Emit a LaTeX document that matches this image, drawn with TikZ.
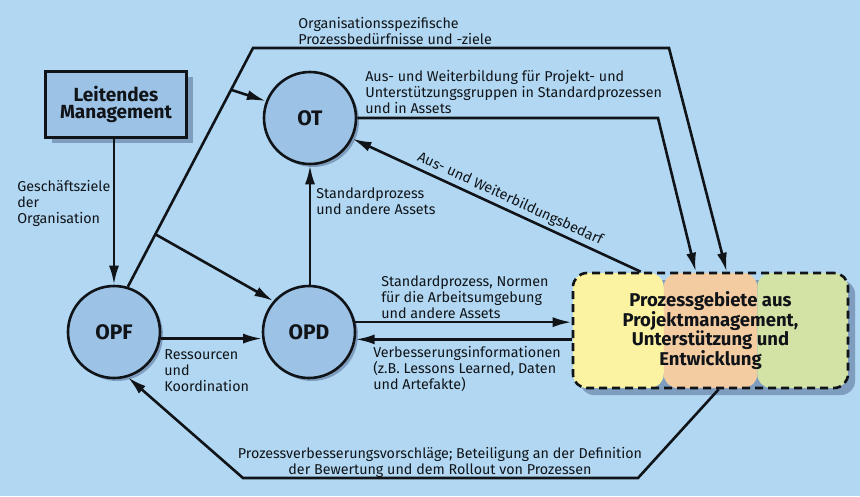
\documentclass[tikz,border=0pt]{standalone}
\usepackage{fontspec}
\setmainfont{Fira Sans}
\usetikzlibrary{arrows.meta, positioning, calc, shadows}
\definecolor{sky}{HTML}{B1D7F2}
\definecolor{ball}{HTML}{9CC2E5}
\definecolor{shade}{HTML}{7F9DBE}
\definecolor{pmyel}{HTML}{FBF2A2}
\definecolor{suporange}{HTML}{F4CCA2}
\definecolor{devgreen}{HTML}{D3E2A5}
\definecolor{ink}{HTML}{101418}

\begin{document}
\begin{tikzpicture}[x=1pt, y=-1pt, line width=2.6pt, draw=ink, text=ink,
    >={Latex[length=19pt, width=10pt]},
    lbl/.style={font=\fontsize{14.3}{16}\selectfont, align=left, inner sep=0pt},
    proc/.style={circle, draw=ink, fill=ball, minimum size=92pt, inner sep=0pt,
                 font=\fontsize{21}{22}\selectfont\bfseries,
                 drop shadow={shadow xshift=3pt, shadow yshift=-3pt, fill=shade, opacity=1}},
    mgmt/.style={draw=ink, line width=3pt, fill=ball, minimum width=141pt, minimum height=66pt,
                 align=center, font=\fontsize{19}{17}\selectfont\bfseries,
                 drop shadow={shadow xshift=6pt, shadow yshift=-6pt, fill=shade, opacity=1}},
    pgbox/.style={draw=ink, dash pattern=on 8pt off 5pt, rounded corners=14pt,
                  minimum width=275pt, minimum height=115pt, align=center,
                  font=\fontsize{18.5}{19}\selectfont\bfseries,
                  drop shadow={shadow xshift=7pt, shadow yshift=-7pt, fill=shade, opacity=1},
                  path picture={
                    \fill[pmyel] (path picture bounding box.north west) rectangle
                      ($(path picture bounding box.south west)!0.33!(path picture bounding box.south east)$);
                    \fill[suporange] ($(path picture bounding box.north west)!0.33!(path picture bounding box.north east)$) rectangle
                      ($(path picture bounding box.south west)!0.67!(path picture bounding box.south east)$);
                    \fill[devgreen] ($(path picture bounding box.north west)!0.67!(path picture bounding box.north east)$) rectangle
                      (path picture bounding box.south east);}}]

  % background
  \fill[sky] (0,0) rectangle (860,496);
  \useasboundingbox (0,0) rectangle (860,496);

  % nodes
  \node[mgmt] (lm) at (116,104) {Leitendes\\Management};
  \node[proc] (ot) at (310,118) {OT};
  \node[proc] (opf) at (114,332) {OPF};
  \node[proc] (opd) at (309,332) {OPD};
  \node[pgbox] (pg) at (710.5,330.5) {Prozessgebiete aus\\Projektmanagement,\\Unterstützung und\\Entwicklung};

  % corner points of the long connectors
  \coordinate (k1) at (253,48);
  \coordinate (k2) at (669,48);
  \coordinate (k3) at (658,118);
  \coordinate (k4) at (638,478);
  \coordinate (k5) at (243,478);
  \coordinate (b1) at ($(opf.73)!0.825!(k1)$);
  \coordinate (b2) at ($(opf.73)!0.22!(k1)$);
  \coordinate (pgin1) at ($(pg.north west)+(155,0)$);
  \coordinate (pgin2) at ($(pg.north west)+(124,0)$);
  \coordinate (pgout) at ($(pg.north west)+(69,0)$);
  \coordinate (pgdown) at ($(pg.south west)+(147,0)$);

  % connectors
  \draw[->] (lm.south -| opf.north) -- (opf.north);
  \draw[->] (opf.73) -- (k1) -- (k2) -- (pgin1);
  \draw[->] (b1) -- (ot.159);
  \draw[->] (b2) -- (opd.139);
  \draw[->] (ot.east) -- (k3) -- (pgin2);
  \draw[->] (pgout) -- node[lbl, sloped, above=3pt, pos=0.47] (needlbl) {Aus- und Weiterbildungsbedarf} (ot.-26);
  \draw[->] (opd.north -| ot.south) -- (ot.south);
  \draw[->] (opf.-8) -- (opd.188);
  \draw[->] (opd.12) -- (opd.12 -| pg.west);
  \draw[->] (opd.-9 -| pg.west) -- (opd.-9);
  \draw[->] (pgdown) -- (k4) -- (k5) -- (opf.-73);

  % labels (anchored on the baseline of their last line)
  \node[lbl, anchor=base west] (needs) at (297,44) {Organisationsspezifische\\Prozessbedürfnisse und -ziele};
  \node[lbl, anchor=base west] (train) at (364,113) {Aus- und Weiterbildung für Projekt- und\\Unterstützungsgruppen in Standardprozessen\\und in Assets};
  \node[lbl, anchor=base west] (goals) at (16,223) {Geschäftsziele\\der\\Organisation};
  \node[lbl, anchor=base west] (std) at (315,214) {Standardprozess\\und andere Assets};
  \node[lbl, anchor=base west] (res) at (163,391) {Ressourcen\\und\\Koordination};
  \node[lbl, anchor=base west] (norms) at (380,318) {Standardprozess, Normen\\für die Arbeitsumgebung\\und andere Assets};
  \node[lbl, anchor=base west] (impr) at (372,389) {Verbesserungsinformationen\\(z.B. Lessons Learned, Daten\\und Artefakte)};
  \node[lbl, align=center, anchor=base] (prop) at (440,474) {Prozessverbesserungsvorschläge; Beteiligung an der Definition\\der Bewertung und dem Rollout von Prozessen};
\end{tikzpicture}
\end{document}
